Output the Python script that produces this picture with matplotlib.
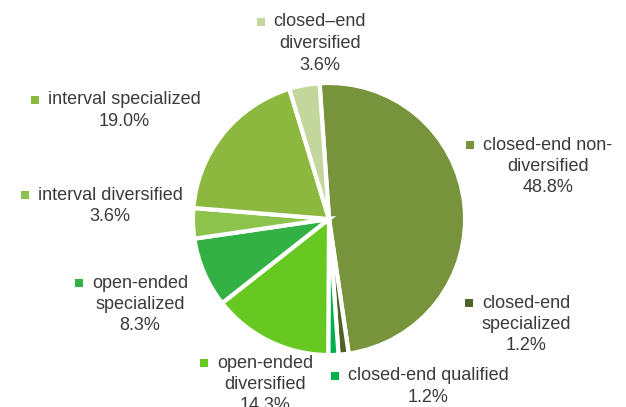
import matplotlib
matplotlib.use("Agg")
import matplotlib.pyplot as plt

categories = ["closed-end non-\ndiversified", "closed-end\nspecialized", "closed-end qualified",
              "open-ended\ndiversified", "open-ended\nspecialized", "interval diversified",
              "interval specialized", "closed\u2013end\ndiversified"]
shares = [48.8, 1.2, 1.2, 14.3, 8.3, 3.6, 19.0, 3.6]
colors = ["#77933C", "#4F6228", "#00B050", "#66C821", "#34B145", "#8CC34C", "#8DB840", "#C3D69B"]
explode = [0.09, 0.035, 0.035, 0.03, 0.03, 0.03, 0.03, 0.06]

W, H = 626, 407
fig = plt.figure(figsize=(W / 100, H / 100), dpi=100)
ax = fig.add_axes([0, 0, 1, 1])

def py(y):
    return H - y

ax.pie(shares, colors=colors, explode=explode, startangle=94, counterclock=False,
       center=(329, py(219)), radius=136, frame=True,
       wedgeprops=dict(edgecolor="white", linewidth=3))
ax.set_xlim(0, W)
ax.set_ylim(0, H)
ax.set_aspect("equal")
ax.axis("off")

# label layout: (text center x, first line y)
layout = [
    (548, 145),
    (526, 303),
    (428, 376),
    (265, 363),
    (140, 283),
    (110, 195),
    (124, 100),
    (320, 22),
]
txtcol = "#3a3a3a"
fs = 13
lh = 21.5
fig.canvas.draw()
r = fig.canvas.get_renderer()
for cat, val, col, (cx, y0) in zip(categories, shares, colors, layout):
    lines = cat.split("\n") + [f"{val:.1f}%"]
    first = None
    for i, ln in enumerate(lines):
        t = ax.text(cx, py(y0 + i * lh), ln, ha="center", va="center", fontsize=fs,
                    color=txtcol, family="Liberation Sans")
        if i == 0:
            first = t
    bb = first.get_window_extent(renderer=r)
    ax.scatter([bb.x0 - 13], [py(y0)], marker="s", s=36, color=col, linewidths=0)

fig.savefig("out.png", dpi=100)
